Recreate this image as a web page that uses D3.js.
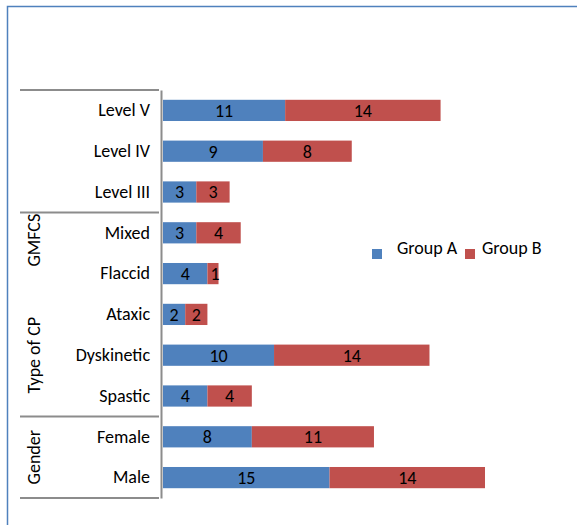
<!DOCTYPE html>
<html>
<head>
<meta charset="utf-8">
<script src="https://cdn.jsdelivr.net/npm/d3@7"></script>
<style>
  body { margin: 0; background: #fff; }
  svg { display: block; font-family: Carlito, Lato, "Liberation Sans", sans-serif; }
</style>
</head>
<body>
<svg id="chart" width="577" height="525"></svg>
<script>
// data, top to bottom as drawn
var categories = ['Level V', 'Level IV', 'Level III', 'Mixed', 'Flaccid', 'Ataxic', 'Dyskinetic', 'Spastic', 'Female', 'Male'];
var groupA = [11, 9, 3, 3, 4, 2, 10, 4, 8, 15];
var groupB = [14, 8, 3, 4, 1, 2, 14, 4, 11, 14];
var seriesNames = ['Group A', 'Group B'];
var groupNames = ['GMFCS', 'Type of CP', 'Gender'];
// index where each group block starts (plus end)
var groupBreaks = [0, 3, 8, 10];

var colors = ['#4f81bd', '#c0504d'];
var lineColor = '#8c8c8c';
var fontSize = '18px';

var svg = d3.select('#chart');

// outer frame (runs off the right / bottom edge like in the source)
svg.append('rect')
    .attr('x', 7.5)
    .attr('y', 6.5)
    .attr('width', 600)
    .attr('height', 600)
    .attr('fill', 'none')
    .attr('stroke', '#4f81bd')
    .attr('stroke-width', 1.5);

var x0 = 163;
var x = d3.scaleLinear().domain([0, 29]).range([x0, x0 + 322]);
var y = d3.scaleBand()
    .domain(categories)
    .range([90, 498])
    .paddingInner(0.48)
    .paddingOuter(0.24);

var rows = categories.map(function (c, i) {
    return { cat: c, a: groupA[i], b: groupB[i] };
});

// bars
var segs = [];
rows.forEach(function (r) {
    segs.push({ cat: r.cat, s: 0, v0: 0, v1: r.a, v: r.a });
    segs.push({ cat: r.cat, s: 1, v0: r.a, v1: r.a + r.b, v: r.b });
});

svg.append('g').selectAll('rect')
    .data(segs)
    .enter().append('rect')
    .attr('x', function (d) { return x(d.v0); })
    .attr('y', function (d) { return y(d.cat); })
    .attr('width', function (d) { return x(d.v1) - x(d.v0); })
    .attr('height', y.bandwidth())
    .attr('fill', function (d) { return colors[d.s]; });

svg.append('g').selectAll('text')
    .data(segs)
    .enter().append('text')
    .attr('x', function (d) { return (x(d.v0) + x(d.v1)) / 2 + (d.v < 2 && d.s ? 2 : 0); })
    .attr('y', function (d) { return y(d.cat) + y.bandwidth() / 2; })
    .attr('dy', '0.36em')
    .attr('text-anchor', 'middle')
    .style('font-size', fontSize)
    .attr('fill', '#000')
    .text(function (d) { return d.v; });

// category axis
var axis = svg.append('g')
    .attr('transform', 'translate(161,0)')
    .call(d3.axisLeft(y).tickSize(0).tickSizeOuter(0).tickPadding(11));
axis.select('.domain')
    .attr('stroke', lineColor)
    .attr('stroke-width', 2);
axis.selectAll('text')
    .style('font-size', fontSize)
    .style('font-family', 'Carlito, Lato, sans-serif')
    .attr('fill', '#000');

// group separator lines
var step = y.step();
svg.append('g').selectAll('line')
    .data(groupBreaks)
    .enter().append('line')
    .attr('x1', 20)
    .attr('x2', 159)
    .attr('y1', function (i) { return 90 + i * step; })
    .attr('y2', function (i) { return 90 + i * step; })
    .attr('stroke', lineColor)
    .attr('stroke-width', 2);

// group labels (Excel puts them a bit off the block centres)
var groupPos = [3.68, 6.5, 9.0];
svg.append('g').selectAll('text')
    .data(groupNames)
    .enter().append('text')
    .attr('transform', function (d, i) {
        return 'translate(34,' + (90 + groupPos[i] * step) + ') rotate(-90)';
    })
    .attr('dy', '0.35em')
    .attr('text-anchor', 'middle')
    .style('font-size', fontSize)
    .attr('fill', '#000')
    .text(function (d) { return d; });

// legend
var legendX = [372, 465];
var leg = svg.append('g').selectAll('g')
    .data(seriesNames)
    .enter().append('g')
    .attr('transform', function (d, i) { return 'translate(' + legendX[i] + ',249)'; });
leg.append('rect')
    .attr('width', 10)
    .attr('height', 10)
    .attr('fill', function (d, i) { return colors[i]; });
leg.append('text')
    .attr('x', function (d, i) { return i === 0 ? 25 : 17; })
    .attr('y', 5)
    .attr('dy', '0.0em')
    .style('font-size', fontSize)
    .attr('fill', '#000')
    .text(function (d) { return d; });
</script>
</body>
</html>
